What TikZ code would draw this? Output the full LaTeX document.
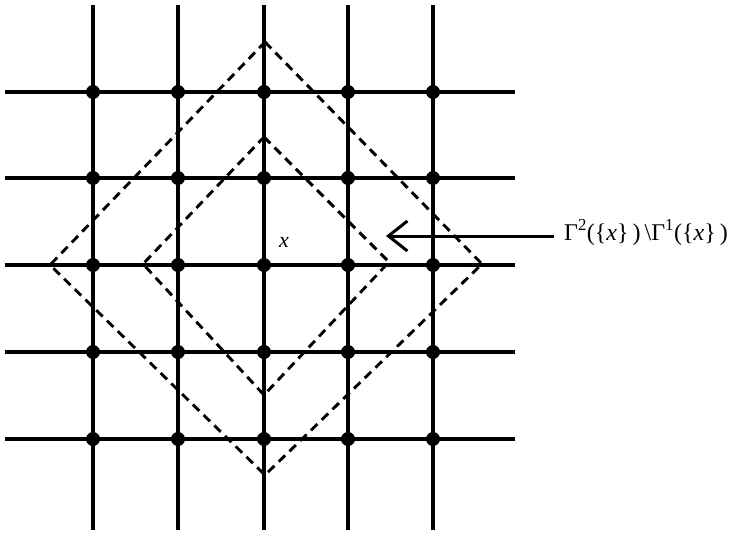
\documentclass[tikz,border=0pt]{standalone}
\usepackage{fontspec}
\setmainfont{Liberation Serif}
\usetikzlibrary{arrows.meta}
\begin{document}
\begin{tikzpicture}[x=1pt,y=-1pt,
  gridline/.style={line width=3.2pt},
  dot/.style={circle,fill=black,inner sep=0pt,minimum size=14pt},
  diam/.style={line width=2.9pt,dash pattern=on 9pt off 6pt,line join=miter},
  lbl/.style={font=\fontsize{24}{28}\selectfont,inner sep=0pt},
  arr/.style={line width=3pt,-{Straight Barb[length=19pt,width=30pt,line width=3pt]}}]
\useasboundingbox (0,0) rectangle (731,533);
% dashed diamonds
\coordinate (oT) at (265,42);  \coordinate (oR) at (482,264);
\coordinate (oB) at (265,475); \coordinate (oL) at (50,265);
\coordinate (iT) at (264,137); \coordinate (iR) at (389,262);
\coordinate (iB) at (264,395); \coordinate (iL) at (143,264);
\draw[diam] (oT) -- (oR) -- (oB) -- (oL) -- cycle;
\draw[diam] (iT) -- (iR) -- (iB) -- (iL) -- cycle;
% grid
\foreach \c/\x in {1/93,2/178,3/264,4/348,5/433}{
  \coordinate (T\c) at (\x,5);
  \coordinate (B\c) at (\x,530);
  \draw[gridline] (T\c) -- (B\c);}
\foreach \r/\y in {1/92,2/178,3/265,4/352,5/439}{
  \coordinate (L\r) at (5,\y);
  \coordinate (R\r) at (515,\y);
  \draw[gridline] (L\r) -- (R\r);}
\foreach \c/\x in {1/93,2/178,3/264,4/348,5/433}{
  \foreach \r/\y in {1/92,2/178,3/265,4/352,5/439}{
    \node[dot] (p\c\r) at (\x,\y) {};}}
% labels
\node[font=\fontsize{22}{26}\selectfont,inner sep=0pt,anchor=base] (xl) at (284,247) {\textit{x}};
\node[lbl,anchor=base west] (lab) at (564,240)
  {Γ\textsuperscript{2}(\{\textit{x}\}\,)\,\textbackslash Γ\textsuperscript{1}(\{\textit{x}\}\,)};
\coordinate (ae) at (386,236);
\coordinate (as) at ([xshift=-10pt]lab.west |- ae);
\draw[arr] (as) -- (ae);
\end{tikzpicture}
\end{document}
